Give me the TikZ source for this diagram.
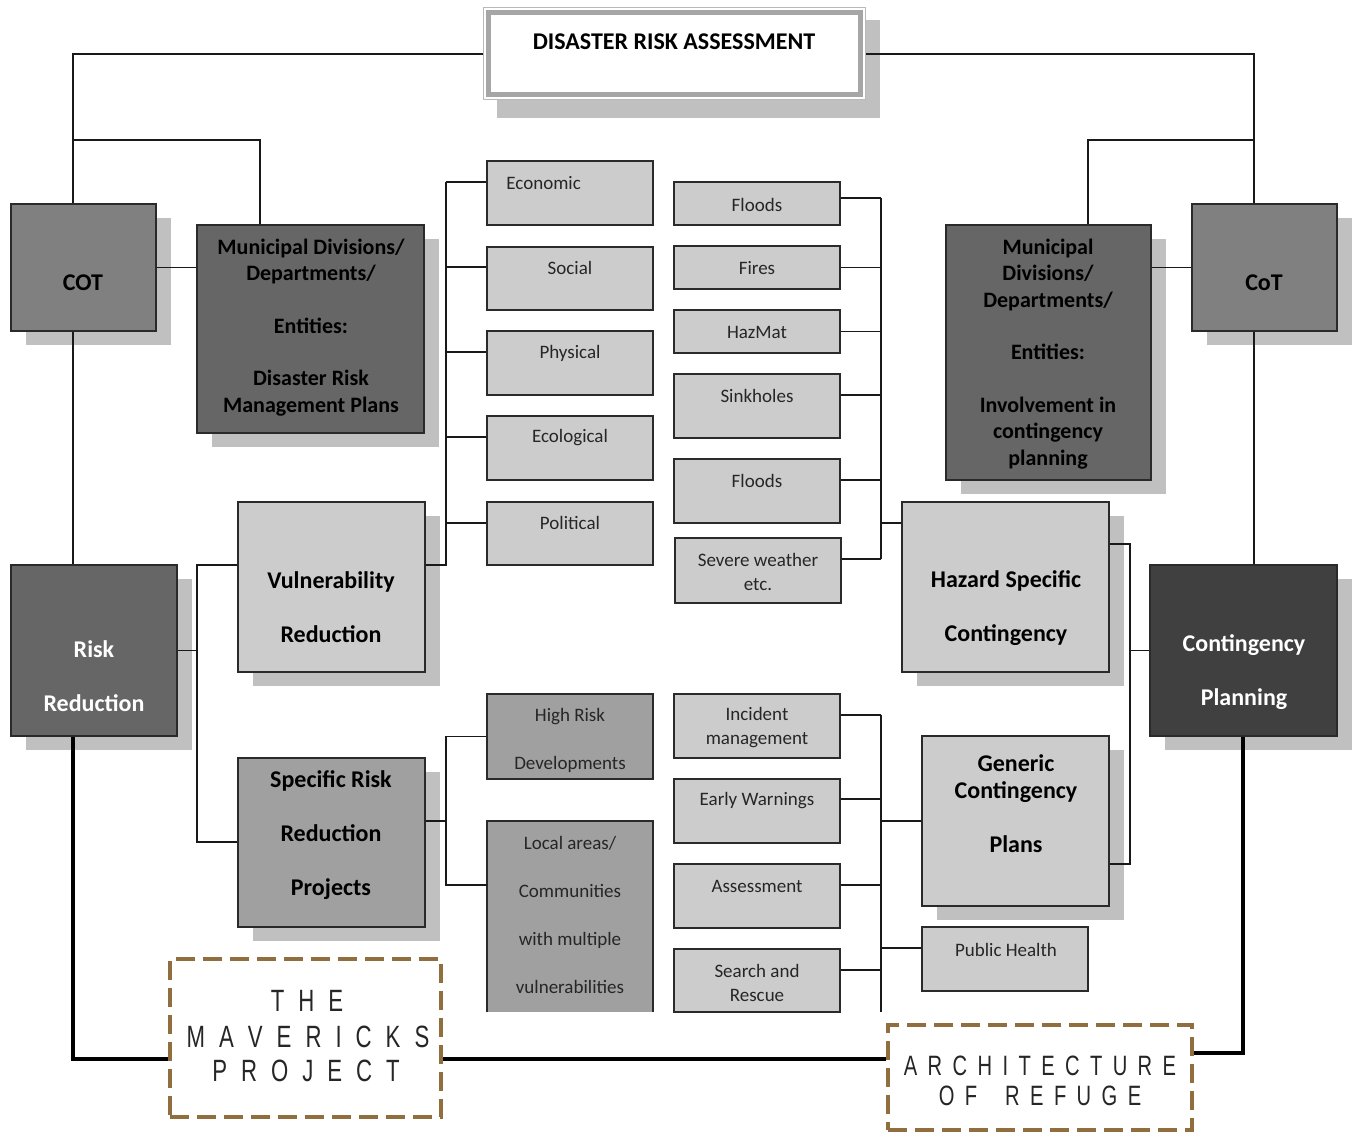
\documentclass[tikz,border=0pt]{standalone}
\usepackage{fontspec}
\setmainfont{Carlito}
\newfontfamily\logofont[FakeStretch=0.72]{Liberation Sans}
\usetikzlibrary{fit,shadows,calc}
\definecolor{cotc}{HTML}{808080}
\definecolor{darkc}{HTML}{666666}
\definecolor{cpc}{HTML}{404040}
\definecolor{lightc}{HTML}{CCCCCC}
\definecolor{medc}{HTML}{A0A0A0}
\definecolor{shadc}{HTML}{C0C0C0}
\definecolor{edgec}{HTML}{2A2A2A}
\definecolor{brownc}{RGB}{145,110,62}
\newcommand\mybox[6]{\node[#6, fit={(#2,#3) (#4,#5)}] (#1) {};}
\begin{document}
\begin{tikzpicture}[x=0.5pt,y=-0.5pt,
  bx/.style={draw=edgec, line width=1pt, inner sep=0pt, rectangle},
  shad/.style={drop shadow={shadow xshift=7.5pt, shadow yshift=-7pt, fill=shadc, opacity=1}},
  lightbox/.style={bx, fill=lightc},
  medbox/.style={bx, fill=medc},
  darkbox/.style={bx, fill=darkc},
  cotbox/.style={bx, fill=cotc},
  cpbox/.style={bx, fill=cpc},
  dashbox/.style={draw=brownc, line width=2pt, dash pattern=on 9.5pt off 4pt, inner sep=0pt, rectangle},
  big/.style={font=\bfseries\fontsize{12}{13.5}\selectfont, align=center, inner sep=0pt},
  mid/.style={font=\bfseries\fontsize{11}{13.25}\selectfont, align=center, inner sep=0pt},
  sm/.style={font=\fontsize{9.5}{12}\selectfont, align=center, inner sep=0pt, text=black!85},
  logoA/.style={font=\logofont\fontsize{15.4}{17.5}\selectfont, inner sep=0pt, text=black!85},
  logoB/.style={font=\logofont\fontsize{14}{16}\selectfont, inner sep=0pt, text=black!85},
  conn/.style={draw=black!90, line width=0.8pt},
  thk/.style={draw=black, line width=2.2pt}]
\useasboundingbox (0,0) rectangle (1356,1133);
\fill[white] (0,0) rectangle (1356,1133);

% title
\fill[shadc] (497,20) rectangle (880,118);
\node[fit={(483,8) (865,100)}, inner sep=0pt, draw=gray!55, line width=0.5pt, fill=white] (title) {};
\node[fit={(488,13) (860,95)}, inner sep=0pt, draw=gray!70, line width=2.5pt] (titleIn) {};
\node[big] (tTitle) at (674,42) {DISASTER RISK ASSESSMENT};

% main boxes
\mybox{cot}{11}{204}{156}{331}{cotbox,shad}
\mybox{mdL}{197}{225}{424}{433}{darkbox,shad}
\mybox{rr}{11}{565}{177}{736}{darkbox,shad}
\mybox{vr}{238}{502}{425}{672}{lightbox,shad}
\mybox{srr}{238}{758}{425}{927}{medbox,shad}
\mybox{hsc}{902}{502}{1109}{672}{lightbox,shad}
\mybox{gcp}{922}{736}{1109}{906}{lightbox,shad}
\mybox{mdR}{946}{225}{1151}{480}{darkbox,shad}
\mybox{cotR}{1192}{204}{1337}{331}{cotbox,shad}
\mybox{cp}{1150}{565}{1337}{736}{cpbox,shad}

% small boxes
\mybox{econ}{487}{161}{653}{225}{lightbox}
\mybox{social}{487}{247}{653}{310}{lightbox}
\mybox{phys}{487}{331}{653}{395}{lightbox}
\mybox{eco}{487}{416}{653}{480}{lightbox}
\mybox{pol}{487}{502}{653}{565}{lightbox}
\mybox{hrd}{487}{694}{653}{779}{medbox}
\node[fit={(487,821) (653,1012)}, inner sep=0pt, fill=medc] (local) {};
\draw[draw=edgec, line width=1pt] (local.south west) -- (local.north west) -- (local.north east) -- (local.south east);
\mybox{fl1}{674}{182}{840}{225}{lightbox}
\mybox{fires}{674}{246}{840}{289}{lightbox}
\mybox{haz}{674}{310}{840}{353}{lightbox}
\mybox{sink}{674}{374}{840}{438}{lightbox}
\mybox{fl2}{674}{459}{840}{523}{lightbox}
\mybox{sev}{675}{538}{841}{603}{lightbox}
\mybox{inc}{674}{694}{840}{758}{lightbox}
\mybox{ew}{674}{779}{840}{843}{lightbox}
\mybox{ass}{674}{864}{840}{928}{lightbox}
\mybox{sar}{674}{949}{840}{1012}{lightbox}
\mybox{ph}{922}{927}{1088}{991}{lightbox}

% logo boxes
\mybox{mav}{170}{959}{441}{1117}{dashbox}
\mybox{aor}{888}{1025}{1192}{1130}{dashbox}

% texts
\node[big] (tCot) at (83,283) {COT};
\node[big] (tCotR) at (1264,283) {CoT};
\node[mid] (tMdL) at (311,327.5) {Municipal Divisions/\\Departments/\\[13pt]Entities:\\[13pt]Disaster Risk\\Management Plans};
\node[mid] (tMdR) at (1048,354) {Municipal\\Divisions/\\Departments/\\[13pt]Entities:\\[13pt]Involvement in\\contingency\\planning};
\node[big, text=white] (tRr) at (94,676) {Risk\\[13.5pt]Reduction};
\node[big] (tVr) at (331,607) {Vulnerability\\[13.5pt]Reduction};
\node[big] (tSrr) at (331,835.5) {Specific Risk\\[13.5pt]Reduction\\[13.5pt]Projects};
\node[big] (tHsc) at (1006,608) {Hazard Specific\\[13.5pt]Contingency};
\node[big] (tGcp) at (1016,803.5) {Generic\\Contingency\\[13.5pt]Plans};
\node[big, text=white] (tCp) at (1244,672.5) {Contingency\\[13.5pt]Planning};

\node[sm, anchor=west] (tEcon) at (506,183) {Economic};
\node[sm] (tSocial) at (570,268) {Social};
\node[sm] (tPhys) at (570,353) {Physical};
\node[sm] (tEco) at (570,438) {Ecological};
\node[sm] (tPol) at (570,523) {Political};
\node[sm] (tFl1) at (757,205) {Floods};
\node[sm] (tFires) at (757,268) {Fires};
\node[sm] (tHaz) at (757,332) {HazMat};
\node[sm] (tSink) at (757,396) {Sinkholes};
\node[sm] (tFl2) at (757,481) {Floods};
\node[sm] (tSev) at (758,572) {Severe weather\\etc.};
\node[sm] (tInc) at (757,728) {Incident\\management};
\node[sm] (tEw) at (757,801) {Early Warnings};
\node[sm] (tAss) at (757,886) {Assessment};
\node[sm] (tSar) at (757,983) {Search and\\Rescue};
\node[sm] (tHrd) at (570,740) {High Risk\\[12pt]Developments};
\node[sm] (tLocal) at (570,914.5) {Local areas/\\[12pt]Communities\\[12pt]with multiple\\[12pt]vulnerabilities};
\node[sm] (tPh) at (1006,950) {Public Health};

\node[logoA] (tThe) at (307,1001) {T\kern7pt H\kern7pt E};
\node[logoA] (tMav) at (308,1037) {M\kern7pt A\kern7pt V\kern7pt E\kern7pt R\kern7pt I\kern7pt C\kern7pt K\kern7pt S};
\node[logoA] (tProj) at (306,1071) {P\kern7pt R\kern7pt O\kern7pt J\kern7pt E\kern7pt C\kern7pt T};
\node[logoB] (tArch) at (1040,1066) {A\kern5.2pt R\kern5.2pt C\kern5.2pt H\kern5.2pt I\kern5.2pt T\kern5.2pt E\kern5.2pt C\kern5.2pt T\kern5.2pt U\kern5.2pt R\kern5.2pt E};
\node[logoB] (tRef) at (1040,1096) {O\kern5.2pt F\kern14pt R\kern5.2pt E\kern5.2pt F\kern5.2pt U\kern5.2pt G\kern5.2pt E};

% connectors
\coordinate (xL) at (73,0);
\coordinate (xR) at (1254,0);
\coordinate (x260) at (260,0);
\coordinate (x1088) at (1088,0);
\coordinate (jL) at (73,140);
\coordinate (jR) at (1254,140);
\draw[conn] (title.west) -| (cot.north -| xL);
\draw[conn] (title.east) -| (cotR.north -| xR);
\draw[conn] (jL) -| (mdL.north -| x260);
\draw[conn] (jR) -| (mdR.north -| x1088);
\draw[conn] (cot.east) -- (cot.east -| mdL.west);
\draw[conn] (cotR.west) -- (cotR.west -| mdR.east);
\draw[conn] (cot.south -| xL) -- (rr.north -| xL);
\draw[conn] (cotR.south -| xR) -- (cp.north -| xR);

\coordinate (x197) at (197,0);
\coordinate (y565) at (0,565);
\coordinate (y842) at (0,842);
\draw[conn] (rr.east) -- (rr.east -| x197);
\draw[conn] (vr.west |- y565) -| (x197 |- y842) -- (srr.west |- y842);

\coordinate (x446) at (446,0);
\foreach \n/\y in {econ/182, social/267, phys/352, eco/437, pol/523}{
  \coordinate (b\n) at (0,\y);
  \draw[conn] (x446 |- b\n) -- (\n.west |- b\n);
}
\draw[conn] (vr.east |- y565) -- (x446 |- y565) -- (x446 |- becon);

\coordinate (x881) at (881,0);
\foreach \n/\y in {fl1/198, fires/267.5, haz/331.5, sink/395, fl2/480, sev/559}{
  \coordinate (b\n) at (0,\y);
  \draw[conn] (\n.east |- b\n) -- (x881 |- b\n);
}
\draw[conn] (x881 |- bfl1) -- (x881 |- bsev);
\coordinate (y523) at (0,523);
\draw[conn] (x881 |- y523) -- (hsc.west |- y523);

\coordinate (x1130) at (1130,0);
\coordinate (y544) at (0,544);
\coordinate (y864) at (0,864);
\draw[conn] (hsc.east |- y544) -| (x1130 |- y864) -- (gcp.east |- y864);
\draw[conn] (x1130 |- cp.west) -- (cp.west);

\coordinate (y821) at (0,821);
\coordinate (y885) at (0,885);
\draw[conn] (srr.east |- y821) -- (x446 |- y821);
\draw[conn] (hrd.west) -| (x446 |- y885) -- (local.west |- y885);

\foreach \n/\y in {inc/715, ew/799, ass/885, sar/970}{
  \coordinate (b\n) at (0,\y);
  \draw[conn] (\n.east |- b\n) -- (x881 |- b\n);
}
\coordinate (y1012) at (0,1012);
\coordinate (y948) at (0,948);
\draw[conn] (x881 |- binc) -- (x881 |- y1012);
\draw[conn] (x881 |- gcp.west) -- (gcp.west);
\draw[conn] (x881 |- y948) -- (ph.west |- y948);

\coordinate (y1059) at (0,1059);
\coordinate (y1053) at (0,1053);
\coordinate (x1243) at (1243,0);
\draw[thk] (rr.south -| xL) |- (mav.west |- y1059);
\draw[thk] (mav.east |- y1059) -- (aor.west |- y1059);
\draw[thk] (aor.east |- y1053) -| (cp.south -| x1243);
\end{tikzpicture}
\end{document}
